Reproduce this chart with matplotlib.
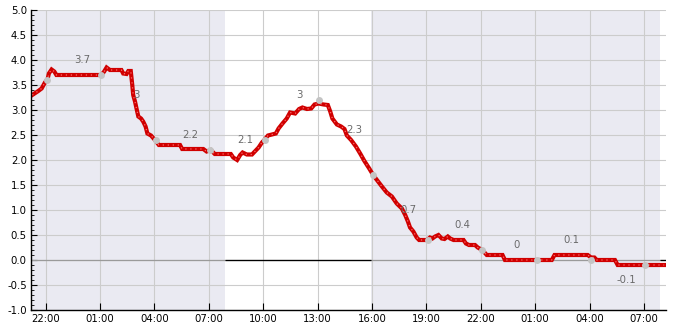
import matplotlib
matplotlib.use("Agg")
import matplotlib.pyplot as plt
import matplotlib.dates as mdates
from matplotlib.ticker import MultipleLocator, FormatStrFormatter
import pandas as pd

plt.rcParams["axes.unicode_minus"] = False
plt.rcParams["font.family"] = ["DejaVu Sans"]

DAYS = ["2024-02-10", "2024-02-11", "2024-02-12"]


def to_time(stamps):
    # "d HH:MM" -> timestamp, d = day index
    out = []
    for s in stamps:
        d, hm = s.split()
        out.append(f"{DAYS[int(d)]} {hm}")
    return pd.to_datetime(out)


# measured series
line_times = [
    "0 21:16", "0 21:36", "0 21:47", "0 21:58", "0 22:07", "0 22:11", "0 22:20",
    "0 22:29", "0 22:36", "1 01:05", "1 01:14", "1 01:22", "1 01:33", "1 02:11",
    "1 02:17", "1 02:28", "1 02:34", "1 02:42", "1 02:47", "1 02:50", "1 02:56",
    "1 03:01", "1 03:07", "1 03:16", "1 03:23", "1 03:31", "1 03:37", "1 03:49",
    "1 04:02", "1 04:15", "1 05:25", "1 05:32", "1 06:42", "1 06:53", "1 07:07",
    "1 07:20", "1 08:13", "1 08:21", "1 08:34", "1 08:44", "1 08:52", "1 09:06",
    "1 09:23", "1 09:34", "1 09:45", "1 09:56", "1 10:04", "1 10:16", "1 10:29",
    "1 10:42", "1 10:51", "1 11:04", "1 11:18", "1 11:29", "1 11:46", "1 11:59",
    "1 12:10", "1 12:25", "1 12:39", "1 12:50", "1 13:03", "1 13:20", "1 13:34",
    "1 13:42", "1 13:49", "1 14:04", "1 14:18", "1 14:29", "1 14:37", "1 14:51",
    "1 15:07", "1 15:21", "1 15:35", "1 15:51", "1 16:05", "1 16:19", "1 16:33",
    "1 16:49", "1 17:06", "1 17:22", "1 17:39", "1 17:50", "1 17:59", "1 18:06",
    "1 18:17", "1 18:28", "1 18:36", "1 19:02", "1 19:12", "1 19:20", "1 19:29",
    "1 19:40", "1 19:51", "1 20:00", "1 20:11", "1 20:19", "1 20:30", "1 21:03",
    "1 21:11", "1 21:21", "1 21:41", "1 21:50", "1 22:05", "1 22:20", "1 23:12",
    "1 23:20", "2 01:55", "2 02:04", "2 03:54", "2 04:05", "2 04:16", "2 04:24",
    "2 05:24", "2 05:33", "2 08:07",
]
line_values = [
    3.30, 3.38, 3.43, 3.55, 3.62, 3.73, 3.81,
    3.77, 3.70, 3.70, 3.77, 3.85, 3.80, 3.80,
    3.73, 3.72, 3.78, 3.78, 3.50, 3.30, 3.17,
    3.03, 2.87, 2.83, 2.77, 2.67, 2.53, 2.49,
    2.40, 2.30, 2.30, 2.22, 2.22, 2.17, 2.20,
    2.12, 2.12, 2.05, 2.00, 2.10, 2.15, 2.11,
    2.11, 2.18, 2.25, 2.35, 2.40, 2.49, 2.51,
    2.53, 2.63, 2.73, 2.83, 2.95, 2.93, 3.02,
    3.05, 3.02, 3.03, 3.11, 3.13, 3.11, 3.10,
    2.97, 2.83, 2.71, 2.67, 2.62, 2.49, 2.40,
    2.27, 2.13, 1.98, 1.83, 1.69, 1.58, 1.47,
    1.35, 1.27, 1.13, 1.03, 0.90, 0.77, 0.65,
    0.57, 0.45, 0.40, 0.40, 0.45, 0.43, 0.47,
    0.50, 0.43, 0.42, 0.47, 0.43, 0.40, 0.40,
    0.33, 0.30, 0.30, 0.25, 0.20, 0.10, 0.10,
    0.00, 0.00, 0.10, 0.10, 0.05, 0.05, 0.00,
    0.00, -0.10, -0.10,
]

# 3-hourly observations (grey dots)
obs_times = ["0 22:05", "1 01:05", "1 04:05", "1 07:05", "1 10:05", "1 13:05",
             "1 16:05", "1 19:05", "1 22:05", "2 01:05", "2 04:05", "2 07:05"]
obs_values = [3.6, 3.7, 2.4, 2.2, 2.4, 3.2, 1.7, 0.4, 0.2, 0.0, 0.0, -0.1]

# forecast labels
label_times = ["1 00:00", "1 03:00", "1 06:00", "1 09:00", "1 12:00", "1 15:00",
               "1 18:00", "1 21:00", "2 00:00", "2 03:00", "2 06:00"]
label_values = [3.7, 3, 2.2, 2.1, 3, 2.3, 0.7, 0.4, 0, 0.1, -0.1]

# night shading
night_start = ["0 21:12", "1 15:57"]
night_end = ["1 07:54", "2 07:53"]
x_range = ["0 21:12", "2 08:13"]

lt = to_time(line_times)
ot = to_time(obs_times)
lbt = to_time(label_times)
ns = to_time(night_start)
ne = to_time(night_end)
xr = to_time(x_range)

fig = plt.figure(figsize=(6.85, 3.3), dpi=100)
ax = fig.add_axes([0.0453, 0.0606, 0.9270, 0.9091])

ax.set_axisbelow(True)
ax.grid(True, color="#cccccc", lw=0.8)
for a, b in zip(ns, ne):
    ax.axvspan(a, b, color="#eaeaf2", lw=0, zorder=0.3)

# zero line: grey over the night bands, black in daylight
ax.axhline(0, color="#9a9a9a", lw=0.9, zorder=0.8)
day_start = list(ne)
day_end = list(ns[1:]) + [xr[1]]
for a, b in zip(day_start, day_end):
    ax.hlines(0, a, b, color="black", lw=0.9, zorder=0.85)

ax.plot(lt, line_values, color="#d00000", lw=3.0, solid_joinstyle="miter",
        zorder=2)
ax.plot(lt, line_values, color="#ff6a6a", lw=0.9, ls=(0, (1, 3)), zorder=2.1)
ax.plot(ot, obs_values, ls="none", marker="o", ms=5, color="#c4c4c4",
        mec="none", zorder=3)

for t, v in zip(lbt, label_values):
    y = v - 0.3 if v < 0 else v + 0.3
    ax.text(t, y, f"{v:g}", ha="center", va="center", fontsize=7.3,
            color="#6a6a6a", zorder=4)

ax.set_xlim(xr[0], xr[1])
ax.set_ylim(-1, 5)
ax.xaxis.set_major_locator(mdates.HourLocator(byhour=range(1, 24, 3)))
ax.xaxis.set_major_formatter(mdates.DateFormatter("%H:%M"))
ax.yaxis.set_major_locator(MultipleLocator(0.5))
ax.yaxis.set_minor_locator(MultipleLocator(0.1))
ax.yaxis.set_major_formatter(FormatStrFormatter("%.1f"))
ax.tick_params(axis="both", which="major", direction="in", labelsize=7.3,
               colors="black", pad=3)
ax.tick_params(axis="x", length=5)
ax.tick_params(axis="y", which="major", length=4)
ax.tick_params(axis="y", which="minor", direction="in", length=2.5)

for side in ("top", "right"):
    ax.spines[side].set_visible(False)
for side in ("left", "bottom"):
    ax.spines[side].set_linewidth(1.0)
    ax.spines[side].set_color("black")

fig.savefig("out.png", dpi=100)
